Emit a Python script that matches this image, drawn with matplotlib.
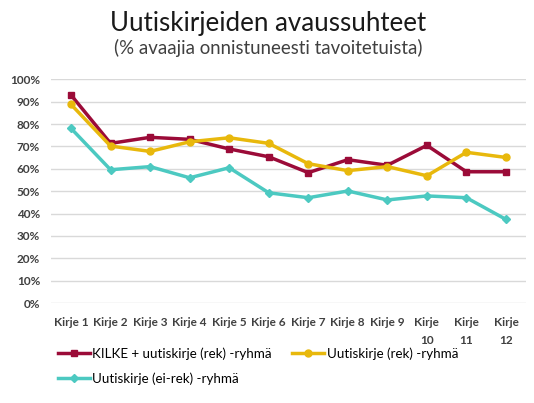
import matplotlib.pyplot as plt
from matplotlib.ticker import PercentFormatter

plt.rcParams['font.family'] = ['Lato', 'DejaVu Sans']

kirjeet = ['Kirje 1', 'Kirje 2', 'Kirje 3', 'Kirje 4', 'Kirje 5', 'Kirje 6',
           'Kirje 7', 'Kirje 8', 'Kirje 9', 'Kirje\n10', 'Kirje\n11', 'Kirje\n12']
kilke = [93.0, 71.4, 74.1, 73.2, 68.9, 65.4, 58.3, 64.1, 61.6, 70.5, 58.7, 58.7]
rek = [88.8, 70.2, 67.8, 72.1, 73.9, 71.4, 62.3, 59.2, 61.0, 56.9, 67.4, 65.1]
ei_rek = [78.1, 59.6, 61.0, 56.0, 60.5, 49.3, 47.1, 50.1, 46.1, 47.9, 47.1, 37.4]

series = [
    ('KILKE + uutiskirje (rek) -ryhmä', kilke, '#9B0B38', 's', 5),
    ('Uutiskirje (rek) -ryhmä', rek, '#E8B80C', 'o', 5),
    ('Uutiskirje (ei-rek) -ryhmä', ei_rek, '#4CC9C1', 'D', 4.5),
]

fig = plt.figure(figsize=(5.34, 4.03), dpi=100)
ax = fig.add_axes([0.096, 0.248, 0.8885, 0.555])

x = list(range(len(kirjeet)))
lines = []
for name, vals, col, mk, ms in series:
    ln, = ax.plot(x, vals, color=col, lw=2.5, marker=mk, markersize=ms, label=name)
    lines.append(ln)

ax.set_xlim(-0.5, len(kirjeet) - 0.5)
ax.set_ylim(0, 100)
ax.set_yticks(range(0, 101, 10))
ax.yaxis.set_major_formatter(PercentFormatter(decimals=0))
ax.set_xticks(x)
ax.set_xticklabels(kirjeet, fontsize=8.5, fontweight='bold', color='#404040',
                   linespacing=1.75, va='top')
for lab in ax.get_yticklabels():
    lab.set_fontsize(8.5)
    lab.set_fontweight('bold')
    lab.set_color('#404040')
ax.tick_params(length=0, pad=8)
ax.tick_params(axis='x', pad=10)
ax.grid(axis='y', color='#D9D9D9', lw=1)
ax.set_axisbelow(True)
for s in ax.spines.values():
    s.set_visible(False)

fig.text(0.502, 0.942, 'Uutiskirjeiden avaussuhteet', ha='center', va='center',
         fontsize=18.6, color='#1a1a1a')
fig.text(0.502, 0.882, '(% avaajia onnistuneesti tavoitetuista)', ha='center',
         va='center', fontsize=13.4, color='#404040')

# column-major fill: order so row 1 = KILKE, rek ; row 2 = ei-rek
order = [lines[0], lines[2], lines[1]]
fig.legend(order, [l.get_label() for l in order],
           loc='upper left', bbox_to_anchor=(0.098, 0.152), ncol=2, frameon=False,
           fontsize=9.6, handlelength=2.4, handletextpad=0.2, columnspacing=1.5,
           labelspacing=0.97, borderaxespad=0)

fig.savefig('out.png', dpi=100)
